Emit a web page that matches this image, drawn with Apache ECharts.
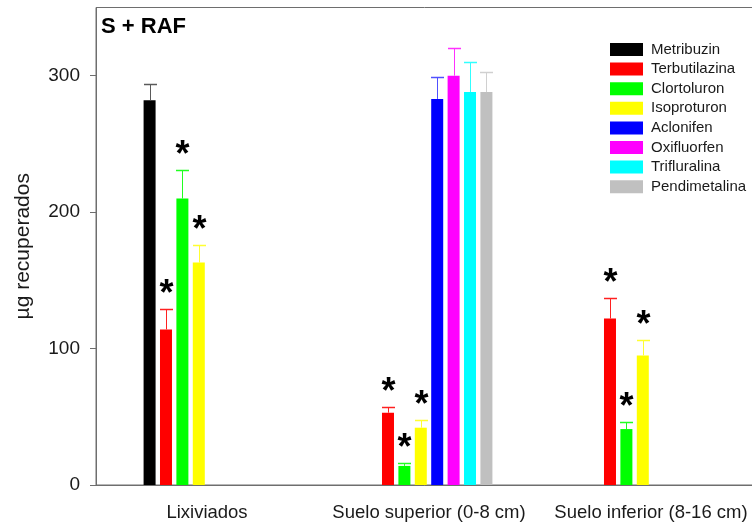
<!DOCTYPE html>
<html>
<head>
<meta charset="utf-8">
<script src="https://cdn.jsdelivr.net/npm/echarts@6/dist/echarts.min.js"></script>
<style>
  html, body { margin: 0; padding: 0; background: #ffffff; }
  #chart { width: 752px; height: 527px; }
</style>
</head>
<body>
<div id="chart"></div>
<script>
// Compartments where the herbicides were recovered
const categories = ['Lixiviados', 'Suelo superior (0-8 cm)', 'Suelo inferior (8-16 cm)'];
const herbicides = ['Metribuzin', 'Terbutilazina', 'Clortoluron', 'Isoproturon',
                    'Aclonifen', 'Oxifluorfen', 'Trifluralina', 'Pendimetalina'];

// Mean µg recovered per compartment (null = not detected)
const metribuzin    = [282, null, null];
const terbutilazina = [114, 53, 122];
const clortoluron   = [210, 14, 41];
const isoproturon   = [163, 42, 95];
const aclonifen     = [null, 283, null];
const oxifluorfen   = [null, 300, null];
const trifluralina  = [null, 288, null];
const pendimetalina = [null, 288, null];

// Standard deviation (upper error bar)
const sdMetribuzin    = [12, null, null];
const sdTerbutilazina = [15, 4, 15];
const sdClortoluron   = [21, 2, 5];
const sdIsoproturon   = [13, 6, 11];
const sdAclonifen     = [null, 16, null];
const sdOxifluorfen   = [null, 20, null];
const sdTrifluralina  = [null, 22, null];
const sdPendimetalina = [null, 15, null];

// Significant differences (marked with *)
const sigMetribuzin    = [false, false, false];
const sigTerbutilazina = [true, true, true];
const sigClortoluron   = [true, true, true];
const sigIsoproturon   = [true, true, true];
const sigAclonifen     = [false, false, false];
const sigOxifluorfen   = [false, false, false];
const sigTrifluralina  = [false, false, false];
const sigPendimetalina = [false, false, false];

// Y axis tick labels
const yTicks = [0, 100, 200, 300];

const means = [metribuzin, terbutilazina, clortoluron, isoproturon,
               aclonifen, oxifluorfen, trifluralina, pendimetalina];
const sds = [sdMetribuzin, sdTerbutilazina, sdClortoluron, sdIsoproturon,
             sdAclonifen, sdOxifluorfen, sdTrifluralina, sdPendimetalina];
const sigs = [sigMetribuzin, sigTerbutilazina, sigClortoluron, sigIsoproturon,
              sigAclonifen, sigOxifluorfen, sigTrifluralina, sigPendimetalina];

const barColors = ['#000000', '#ff0000', '#00ff00', '#ffff00',
                   '#0000ff', '#ff00ff', '#00ffff', '#c0c0c0'];
const errColors = ['#5a5a5a', '#ff2020', '#20ff20', '#ffff30',
                   '#5050ff', '#ff30ff', '#30ffff', '#d0d0d0'];

const BAR_W = 12;
const BAR_GAP = 4.4;
const N = herbicides.length;

const series = [];
herbicides.forEach(function (name, i) {
  series.push({
    name: name,
    type: 'bar',
    data: means[i],
    barWidth: BAR_W,
    barGap: (BAR_GAP / BAR_W * 100).toFixed(1) + '%',
    itemStyle: { color: barColors[i] },
    emphasis: { disabled: true },
    animation: false,
    z: 2
  });
});

// Upper error bars and significance marks, one custom series per herbicide
herbicides.forEach(function (name, i) {
  const items = [];
  means[i].forEach(function (m, c) {
    if (m != null) items.push([c, m, sds[i][c], sigs[i][c] ? 1 : 0]);
  });
  series.push({
    name: name + '-err',
    type: 'custom',
    data: items,
    animation: false,
    silent: true,
    z: 3,
    renderItem: function (params, api) {
      const c = api.value(0);
      const m = api.value(1);
      const top = m + api.value(2);
      const pBase = api.coord([c, m]);
      const pTop = api.coord([c, top]);
      const x = Math.round(pBase[0] + (i - (N - 1) / 2) * (BAR_W + BAR_GAP)) + 0.5;
      const yTop = Math.round(pTop[1]) + 0.5;
      const children = [
        { type: 'line', shape: { x1: x, y1: pBase[1], x2: x, y2: yTop },
          style: { stroke: errColors[i], lineWidth: 1 } },
        { type: 'line', shape: { x1: x - 6.5, y1: yTop, x2: x + 6.5, y2: yTop },
          style: { stroke: errColors[i], lineWidth: 1.5 } }
      ];
      if (api.value(3)) {
        children.push({
          type: 'text',
          style: {
            text: '*', x: x, y: yTop - 14,
            fill: '#000', font: 'bold 36px "Liberation Sans", Arial, sans-serif',
            align: 'center', verticalAlign: 'middle'
          }
        });
      }
      return { type: 'group', children: children };
    }
  });
});

const chart = echarts.init(document.getElementById('chart'), null, { renderer: 'canvas' });
chart.setOption({
  animation: false,
  backgroundColor: '#ffffff',
  textStyle: { fontFamily: '"Liberation Sans", Arial, sans-serif' },
  title: {
    text: 'S + RAF',
    left: 101,
    top: 16,
    padding: 0,
    textStyle: { fontSize: 22, fontWeight: 'bold', color: '#000' }
  },
  legend: {
    data: herbicides,
    orient: 'vertical',
    left: 610,
    top: 42,
    padding: 0,
    itemWidth: 33,
    itemHeight: 13,
    itemGap: 4.6,
    icon: 'rect',
    selectedMode: false,
    textStyle: { fontSize: 15, color: '#1a1a1a', lineHeight: 13, padding: [0, 0, 0, 3] }
  },
  grid: {
    left: 96,
    top: 7.5,
    width: 666,
    height: 477.5,
    show: true,
    borderColor: '#6e6e6e',
    borderWidth: 1,
    outerBoundsMode: 'none',
    containLabel: false
  },
  xAxis: {
    type: 'category',
    data: categories,
    axisLine: { lineStyle: { color: '#6e6e6e', width: 1 } },
    axisTick: { alignWithLabel: true, length: 6, lineStyle: { color: '#6e6e6e' } },
    axisLabel: { fontSize: 18.5, color: '#1a1a1a', margin: 18, interval: 0, hideOverlap: false },
    splitLine: { show: false }
  },
  yAxis: {
    type: 'value',
    min: 0,
    max: 350,
    interval: 50,
    name: 'µg recuperados',
    nameLocation: 'middle',
    nameGap: 62,
    nameTextStyle: { fontSize: 21, color: '#1a1a1a' },
    axisLine: { show: true, lineStyle: { color: '#6e6e6e', width: 1 } },
    axisTick: { show: true, length: 6, customValues: yTicks, lineStyle: { color: '#6e6e6e' } },
    axisLabel: { fontSize: 19, color: '#1a1a1a', margin: 16, customValues: yTicks },
    splitLine: { show: false }
  },
  series: series
});
</script>
</body>
</html>
